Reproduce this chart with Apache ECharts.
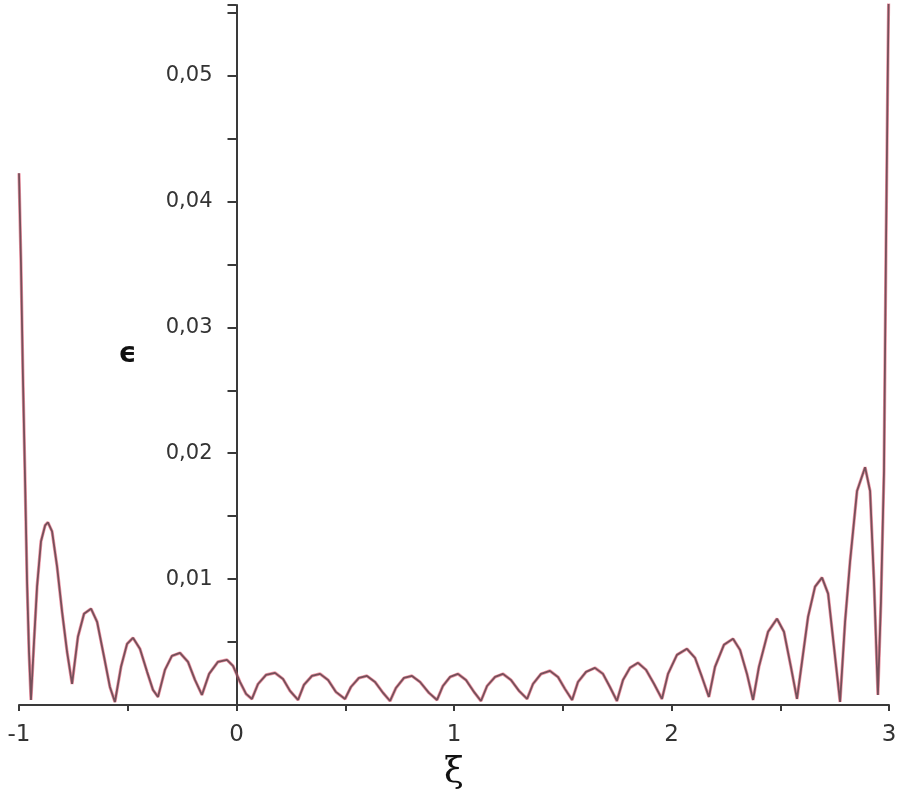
<!DOCTYPE html>
<html>
<head>
<meta charset="utf-8">
<script src="https://cdn.jsdelivr.net/npm/echarts@6/dist/echarts.min.js"></script>
<style>
  html, body { margin: 0; padding: 0; background: #fff; }
  #container { width: 900px; height: 796px; }
</style>
</head>
<body>
<div id="container"></div>
<script>
// ξ values
var xi = [
  -1.000, -0.991, -0.982, -0.972, -0.963, -0.954, -0.945,
  -0.931, -0.917, -0.899, -0.880, -0.867, -0.848, -0.825, -0.802, -0.779, -0.756,
  -0.729, -0.701, -0.669, -0.641, -0.609, -0.582, -0.559,
  -0.531, -0.503, -0.476, -0.444, -0.411, -0.384, -0.361,
  -0.329, -0.297, -0.260, -0.223, -0.191, -0.159,
  -0.126, -0.085, -0.044, -0.016, 0.016, 0.044, 0.071,
  0.099, 0.136, 0.177, 0.214, 0.246, 0.283,
  0.310, 0.347, 0.384, 0.421, 0.457, 0.499,
  0.526, 0.563, 0.600, 0.637, 0.674, 0.706,
  0.733, 0.770, 0.807, 0.844, 0.885, 0.922,
  0.949, 0.982, 1.018, 1.055, 1.092, 1.124,
  1.152, 1.189, 1.225, 1.262, 1.299, 1.336,
  1.363, 1.400, 1.441, 1.478, 1.510, 1.543,
  1.570, 1.607, 1.648, 1.685, 1.717, 1.749,
  1.777, 1.809, 1.846, 1.883, 1.920, 1.956,
  1.984, 2.025, 2.071, 2.108, 2.140, 2.172,
  2.200, 2.241, 2.283, 2.315, 2.347, 2.375,
  2.402, 2.444, 2.485, 2.517, 2.549, 2.577,
  2.600, 2.628, 2.660, 2.692, 2.720, 2.747, 2.775,
  2.798, 2.821, 2.853, 2.890, 2.913, 2.931, 2.949,
  2.963, 2.977, 2.986, 2.995, 3.000
];
// ϵ values
var eps = [
  0.04223, 0.03514, 0.02614, 0.01777, 0.00980, 0.00422, 0.00040,
  0.00502, 0.00940, 0.01299, 0.01426, 0.01450, 0.01379, 0.01100, 0.00741, 0.00422, 0.00167,
  0.00542, 0.00725, 0.00765, 0.00661, 0.00383, 0.00143, 0.00024,
  0.00303, 0.00486, 0.00534, 0.00446, 0.00263, 0.00120, 0.00064,
  0.00279, 0.00390, 0.00414, 0.00343, 0.00199, 0.00080,
  0.00247, 0.00343, 0.00359, 0.00311, 0.00183, 0.00088, 0.00048,
  0.00167, 0.00239, 0.00255, 0.00207, 0.00112, 0.00040,
  0.00160, 0.00231, 0.00247, 0.00199, 0.00104, 0.00048,
  0.00143, 0.00215, 0.00231, 0.00183, 0.00096, 0.00032,
  0.00135, 0.00215, 0.00231, 0.00183, 0.00096, 0.00040,
  0.00151, 0.00223, 0.00247, 0.00199, 0.00104, 0.00032,
  0.00151, 0.00223, 0.00247, 0.00199, 0.00112, 0.00048,
  0.00167, 0.00247, 0.00271, 0.00223, 0.00128, 0.00040,
  0.00183, 0.00263, 0.00295, 0.00247, 0.00143, 0.00032,
  0.00199, 0.00295, 0.00335, 0.00279, 0.00167, 0.00048,
  0.00247, 0.00398, 0.00446, 0.00375, 0.00223, 0.00064,
  0.00303, 0.00478, 0.00526, 0.00438, 0.00247, 0.00040,
  0.00303, 0.00582, 0.00685, 0.00582, 0.00303, 0.00048,
  0.00343, 0.00701, 0.00940, 0.01012, 0.00885, 0.00462, 0.00024,
  0.00661, 0.01140, 0.01700, 0.01889, 0.01700, 0.00980, 0.00080,
  0.00821, 0.01857, 0.03610, 0.05125, 0.05840
];

var curve = xi.map(function (x, i) { return [x, eps[i]]; });

var dom = document.getElementById("container");
var myChart = echarts.init(dom);

// the y axis stands at ξ = 0: one unit of ξ is 217.5 px
var yAxisShift = -217.5;

myChart.setOption({
  animation: false,
  backgroundColor: '#fff',
  grid: { left: 19, right: 11, top: 5, bottom: 91, containLabel: false, outerBoundsMode: 'none' },
  xAxis: {
    type: 'value',
    min: -1, max: 3, interval: 0.5,
    name: 'ξ',
    nameLocation: 'middle',
    nameGap: 50,
    nameTextStyle: { fontFamily: 'DejaVu Serif', fontSize: 36, color: '#111' },
    axisLine: { onZero: false, lineStyle: { color: '#3a3a3a', width: 2 } },
    axisTick: { show: true, inside: false, length: 6, lineStyle: { color: '#3a3a3a', width: 2 } },
    splitLine: { show: false },
    axisLabel: {
      margin: 19,
      fontFamily: 'DejaVu Sans', fontSize: 23, color: '#333',
      formatter: function (v) {
        return Math.abs(v - Math.round(v)) < 1e-9 ? String(Math.round(v)) : '';
      }
    }
  },
  yAxis: {
    type: 'value',
    position: 'left',
    offset: yAxisShift,
    min: 0, max: 0.0556, interval: 0.005,
    name: 'ϵ',
    nameLocation: 'middle',
    nameRotate: 0,
    nameGap: 100,
    nameTextStyle: { fontFamily: 'DejaVu Sans', fontSize: 28, fontWeight: 'bold', color: '#111' },
    axisLine: { onZero: false, lineStyle: { color: '#3a3a3a', width: 2 } },
    axisTick: { show: true, inside: false, length: 9, lineStyle: { color: '#3a3a3a', width: 2 } },
    splitLine: { show: false },
    axisLabel: {
      margin: 24,
      fontFamily: 'DejaVu Sans', fontSize: 21, color: '#333',
      formatter: function (v) {
        if (v <= 0) return '';
        var k = v * 100;
        if (Math.abs(k - Math.round(k)) > 1e-6) return '';
        return v.toFixed(2).replace('.', ',');
      }
    }
  },
  series: [{
    type: 'line',
    data: curve,
    showSymbol: false,
    clip: true,
    lineStyle: { color: '#e0324f', width: 3.2, opacity: 0.5 },
    z: 2
  }, {
    type: 'line',
    data: curve,
    showSymbol: false,
    clip: true,
    lineStyle: { color: '#75505a', width: 1.8 },
    z: 3
  }]
});
</script>
</body>
</html>
